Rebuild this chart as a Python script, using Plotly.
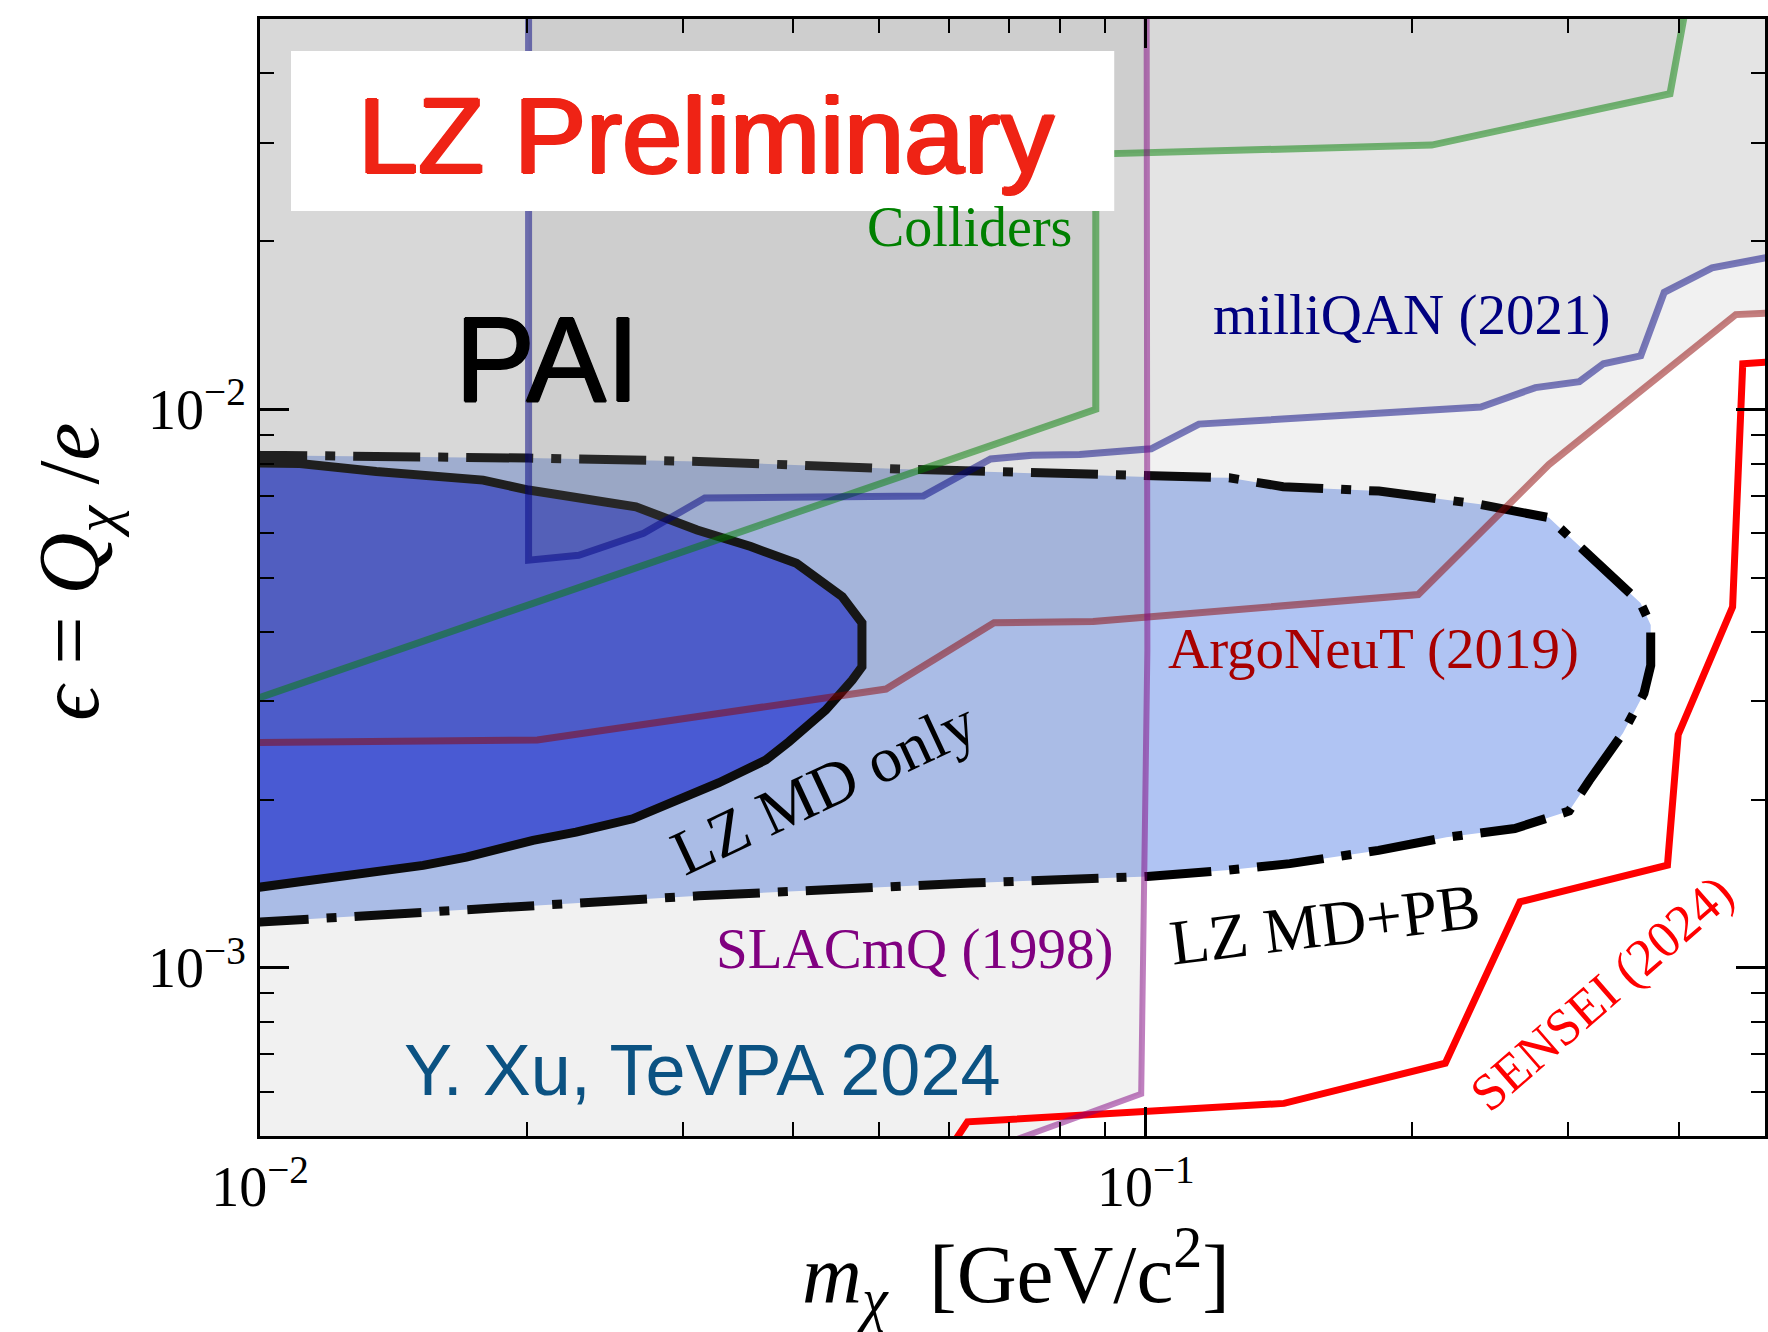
import math
import plotly.graph_objects as go

# ---------------------------------------------------------------
# Millicharged particle exclusion plane: mass vs fractional charge
# ---------------------------------------------------------------
MASS_LIM = [0.01, 0.5]      # GeV/c^2
EPS_LIM = [5e-4, 0.05]      # epsilon = Q_chi / e

# tick positions
x_major = [0.01, 0.1]
x_major_text = ["10<sup>\u22122</sup>", "10<sup>\u22121</sup>"]
x_minor = [0.02, 0.03, 0.04, 0.05, 0.06, 0.07, 0.08, 0.09, 0.2, 0.3, 0.4, 0.5]
y_major = [1e-3, 1e-2]
y_major_text = ["10<sup>\u22123</sup>", "10<sup>\u22122</sup>"]
y_minor = [6e-4, 7e-4, 8e-4, 9e-4, 2e-3, 3e-3, 4e-3, 5e-3, 6e-3, 7e-3, 8e-3, 9e-3,
           2e-2, 3e-2, 4e-2, 5e-2]

# ---- existing limits (boundaries of excluded regions) ----
slacmq_m = [0.1002, 0.1004, 0.0988, 0.0731, 0.0541]
slacmq_eps = [0.06, 3.7e-3, 5.95e-4, 5.0e-4, 4.2e-4]

argoneut_m = [0.0095, 0.01337, 0.02056, 0.0509, 0.0674, 0.0872, 0.203, 0.285, 0.4634, 0.52]
argoneut_eps = [2.53e-3, 2.535e-3, 2.558e-3, 3.157e-3, 4.15e-3, 4.17e-3, 4.66e-3,
                7.96e-3, 1.478e-2, 1.49e-2]

milliqan_m = [0.0201, 0.0201, 0.0229, 0.0271, 0.03178, 0.0561, 0.0668, 0.0744, 0.0842,
              0.1014, 0.1148, 0.2389, 0.2753, 0.3086, 0.3285, 0.362, 0.3848, 0.4357, 0.52]
milliqan_eps = [0.06, 5.37e-3, 5.48e-3, 6.0e-3, 6.94e-3, 7.0e-3, 8.15e-3, 8.28e-3, 8.3e-3,
                8.5e-3, 9.41e-3, 1.01e-2, 1.094e-2, 1.121e-2, 1.207e-2, 1.247e-2, 1.62e-2,
                1.792e-2, 1.89e-2]

colliders_m = [0.0095, 0.0878, 0.0878, 0.2102, 0.3906, 0.406, 0.41]
colliders_eps = [2.965e-3, 1.0e-2, 2.865e-2, 2.973e-2, 3.674e-2, 0.05, 0.056]

sensei_m = [0.0598, 0.0629, 0.1432, 0.2178, 0.2645, 0.388, 0.399, 0.4596, 0.4719, 0.52]
sensei_eps = [4.7e-4, 5.3e-4, 5.72e-4, 6.75e-4, 1.313e-3, 1.527e-3, 2.615e-3, 4.43e-3,
              1.207e-2, 1.22e-2]

# ---- LZ contours ----
lz_mdpb_m = [0.0095, 0.01, 0.0201, 0.0313, 0.0526, 0.1004, 0.1242, 0.1429, 0.1833, 0.2384,
             0.285, 0.3112, 0.3398, 0.3618, 0.3715, 0.3715, 0.365, 0.3457, 0.3167, 0.3005,
             0.2609, 0.2184, 0.1831, 0.1454, 0.1241, 0.1004, 0.0634, 0.0313, 0.01, 0.0095]
lz_mdpb_eps = [8.33e-3, 8.28e-3, 8.18e-3, 8.07e-3, 7.82e-3, 7.57e-3, 7.54e-3, 7.27e-3,
               7.14e-3, 6.76e-3, 6.40e-3, 5.62e-3, 4.94e-3, 4.50e-3, 4.11e-3, 3.48e-3,
               3.10e-3, 2.634e-3, 2.165e-3, 1.909e-3, 1.776e-3, 1.713e-3, 1.623e-3,
               1.537e-3, 1.497e-3, 1.458e-3, 1.419e-3, 1.346e-3, 1.208e-3, 1.20e-3]

lz_md_m = [0.0095, 0.01109, 0.01353, 0.01786, 0.0201, 0.02335, 0.02657, 0.03115, 0.03581,
           0.04033, 0.04543, 0.04781, 0.04781, 0.04661, 0.04351, 0.03955, 0.03724, 0.03297,
           0.02634, 0.02274, 0.02033, 0.0171, 0.01528, 0.01109, 0.0095]
lz_md_eps = [8.02e-3, 8.0e-3, 7.74e-3, 7.47e-3, 7.17e-3, 6.88e-3, 6.69e-3, 6.08e-3, 5.68e-3,
             5.3e-3, 4.62e-3, 4.15e-3, 3.46e-3, 3.275e-3, 2.894e-3, 2.541e-3, 2.356e-3,
             2.145e-3, 1.849e-3, 1.75e-3, 1.692e-3, 1.579e-3, 1.526e-3, 1.426e-3, 1.38e-3]

# colours
SHADE = "rgba(120,120,120,0.1)"
LZ_PB_FILL = "rgb(176,196,243)"
LZ_MD_FILL = "rgb(69,87,222)"
SERIF = "Liberation Serif"
SANS = "Liberation Sans"

TOP, BOTTOM, LEFT, RIGHT = 0.06, 4.0e-4, 0.0095, 0.52

fig = go.Figure()


def polygon(xs, ys, color):
    fig.add_trace(go.Scatter(x=xs, y=ys, mode="lines", fill="toself", fillcolor=color,
                             line=dict(width=0), hoverinfo="skip", showlegend=False))


def curve(xs, ys, color, width, dash="solid"):
    fig.add_trace(go.Scatter(x=xs, y=ys, mode="lines",
                             line=dict(color=color, width=width, dash=dash),
                             hoverinfo="skip", showlegend=False))


# LZ sensitivity regions
polygon(lz_mdpb_m, lz_mdpb_eps, LZ_PB_FILL)
polygon(lz_md_m, lz_md_eps, LZ_MD_FILL)
curve(lz_mdpb_m, lz_mdpb_eps, "black", 9, dash="67px,18px,10px,18px")
curve(lz_md_m, lz_md_eps, "black", 9)

# excluded regions, each a faint shade so overlaps darken
polygon(slacmq_m + [LEFT, LEFT], slacmq_eps + [BOTTOM, TOP], SHADE)
polygon(argoneut_m + [RIGHT, LEFT], argoneut_eps + [TOP, TOP], SHADE)
polygon(milliqan_m + [RIGHT], milliqan_eps + [TOP], SHADE)
polygon(colliders_m + [LEFT], colliders_eps + [TOP], SHADE)

# SENSEI limit
curve(sensei_m, sensei_eps, "rgb(255,0,0)", 7)

# boundary lines of the excluded regions
curve(colliders_m, colliders_eps, "rgba(0,128,0,0.5)", 7)
curve(milliqan_m, milliqan_eps, "rgba(0,0,128,0.5)", 7)
curve(argoneut_m, argoneut_eps, "rgba(139,0,0,0.5)", 7)
curve(slacmq_m, slacmq_eps, "rgba(128,0,128,0.5)", 6)

axis_common = dict(
    type="log", showline=True, linecolor="black", linewidth=3, mirror="allticks",
    ticks="inside", ticklen=29, tickwidth=2.5, tickcolor="black",
    showgrid=False, zeroline=False,
    tickfont=dict(family=SERIF, size=56, color="black"),
)

fig.update_xaxes(
    range=[math.log10(MASS_LIM[0]), math.log10(MASS_LIM[1])],
    tickmode="array", tickvals=x_major, ticktext=x_major_text,
    minor=dict(tickmode="array", tickvals=x_minor, ticks="inside", ticklen=14,
               tickwidth=2, tickcolor="black", showgrid=False),
    **axis_common,
)
fig.update_yaxes(
    range=[math.log10(EPS_LIM[0]), math.log10(EPS_LIM[1])],
    tickmode="array", tickvals=y_major, ticktext=y_major_text,
    minor=dict(tickmode="array", tickvals=y_minor, ticks="inside", ticklen=14,
               tickwidth=2, tickcolor="black", showgrid=False),
    **axis_common,
)

# white banner behind the preliminary tag
fig.add_shape(type="rect", xref="paper", yref="paper", x0=0.0206, x1=0.5676,
              y0=0.8281, y1=0.9713, fillcolor="white", line=dict(width=0), layer="above")


def heavy(color, px):
    # thicken sans-serif strokes slightly
    return ", ".join(f"{dx}px {dy}px 0px {color}"
                     for dx, dy in [(px, 0), (-px, 0), (0, px * 0.6), (0, -px * 0.6)])


labels = [
    ("LZ Preliminary", 0.2961, 0.8957, SANS, 108, "#ef2315", 0, 1.6),
    ("PAI", 0.1910, 0.6956, SANS, 120, "black", 0, 1.0),
    ("Colliders", 0.4715, 0.8138, SERIF, 56, "rgb(0,128,0)", 0, 0),
    ("milliQAN (2021)", 0.7653, 0.7350, SERIF, 57, "rgb(0,0,128)", 0, 0),
    ("ArgoNeuT (2019)", 0.7401, 0.4360, SERIF, 57, "rgb(168,0,0)", 0, 0),
    ("SLACmQ (1998)", 0.4350, 0.1674, SERIF, 57, "rgb(128,0,128)", 0, 0),
    ("LZ MD+PB", 0.7076, 0.1889, SERIF, 64, "black", -7, 0),
    ("LZ MD only", 0.3747, 0.3124, SERIF, 64, "black", -25, 0),
    ("SENSEI (2024)", 0.8919, 0.1280, SERIF, 52, "rgb(255,0,0)", -41, 0),
    ("Y. Xu, TeVPA 2024", 0.2938, 0.0591, SANS, 72, "#0b5282", 0, 0),
]
for text, xp, yp, fam, size, color, angle, weight_px in labels:
    font = dict(family=fam, size=size, color=color)
    if weight_px:
        font["shadow"] = heavy(color, weight_px)
    fig.add_annotation(text=text, x=xp, y=yp, xref="paper", yref="paper",
                       xanchor="center", yanchor="middle", showarrow=False,
                       textangle=angle, font=font)

# axis titles
fig.add_annotation(text="<i>m</i><sub><i>\u03c7</i></sub>  [GeV/c<sup>2</sup>]",
                   x=0.502, y=-0.123, xref="paper", yref="paper", showarrow=False,
                   xanchor="center", yanchor="middle",
                   font=dict(family=SERIF, size=83, color="black"))
fig.add_annotation(text="<i>\u03f5</i> = <i>Q</i><sub><i>\u03c7</i></sub> /<i>e</i>",
                   x=-0.123, y=0.505, xref="paper", yref="paper", showarrow=False,
                   xanchor="center", yanchor="middle", textangle=-90,
                   font=dict(family=SERIF, size=86, color="black"))

fig.update_layout(
    width=1768, height=1332,
    margin=dict(l=260, r=0, t=19, b=196),
    paper_bgcolor="white", plot_bgcolor="white",
    showlegend=False,
)

fig.write_html("out.html")
